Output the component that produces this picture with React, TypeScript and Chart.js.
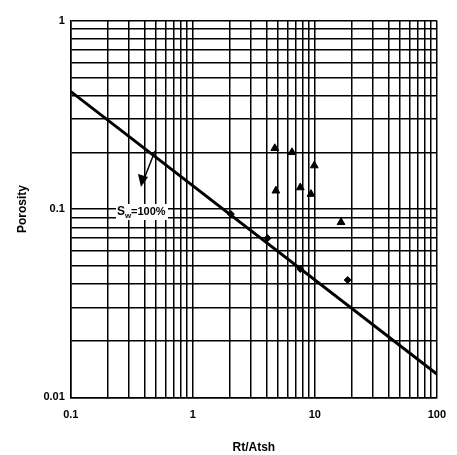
import React, { useEffect, useRef } from 'react';
import { Chart, registerables } from 'chart.js';

Chart.register(...registerables);

const triangleX = [4.7, 6.5, 9.9, 4.8, 7.6, 9.3, 16.4];
const triangleY = [0.21, 0.2, 0.17, 0.125, 0.13, 0.12, 0.085];
const diamondX = [2.05, 4.1, 7.6, 18.6];
const diamondY = [0.094, 0.07, 0.048, 0.042];
const lineX = [0.1, 100];
const lineY = [0.42, 0.0133];
const decades = [0.01, 0.1, 1, 10, 100];

const logTicks = (min: number, max: number) => {
  const out: { value: number }[] = [];
  for (let e = Math.round(Math.log10(min)); e < Math.round(Math.log10(max)); e++) {
    for (let m = 1; m < 10; m++) out.push({ value: m * Math.pow(10, e) });
  }
  out.push({ value: max });
  return out;
};

const isDecade = (v: number) => decades.some((d) => Math.abs(d - v) < d * 1e-6);

const annotation = {
  id: 'swNote',
  afterDatasetsDraw(chart: any) {
    const { ctx } = chart;
    ctx.save();
    ctx.strokeStyle = '#000';
    ctx.fillStyle = '#000';
    ctx.lineWidth = 1.5;
    ctx.beginPath();
    ctx.moveTo(147, 143);
    ctx.lineTo(136, 171);
    ctx.stroke();
    ctx.beginPath();
    ctx.moveTo(133, 179);
    ctx.lineTo(130, 166);
    ctx.lineTo(140, 169);
    ctx.closePath();
    ctx.fill();
    ctx.fillStyle = '#fff';
    ctx.fillRect(108, 196, 52, 16);
    ctx.fillStyle = '#000';
    ctx.font = 'bold 12px "Liberation Sans", Arial';
    ctx.textBaseline = 'middle';
    ctx.fillText('S', 109, 204);
    ctx.font = 'bold 8px "Liberation Sans", Arial';
    ctx.fillText('w', 117, 208);
    ctx.font = 'bold 11px "Liberation Sans", Arial';
    ctx.fillText('=100%', 123, 204);
    ctx.restore();
  },
};

const App: React.FC = () => {
  const canvasRef = useRef<HTMLCanvasElement | null>(null);

  useEffect(() => {
    if (!canvasRef.current) return;
    const chart = new Chart(canvasRef.current, {
      type: 'scatter',
      data: {
        datasets: [
          {
            data: lineX.map((x, i) => ({ x, y: lineY[i] })),
            showLine: true,
            borderColor: '#000',
            borderWidth: 3,
            pointRadius: 0,
          },
          {
            data: triangleX.map((x, i) => ({ x, y: triangleY[i] })),
            pointStyle: 'triangle',
            pointRadius: 4.5,
            backgroundColor: '#000',
            borderColor: '#000',
          },
          {
            data: diamondX.map((x, i) => ({ x, y: diamondY[i] })),
            pointStyle: 'rectRot',
            pointRadius: 3.5,
            backgroundColor: '#000',
            borderColor: '#000',
          },
        ],
      },
      plugins: [annotation],
      options: {
        animation: false,
        responsive: false,
        layout: { padding: { top: 8, right: 0, left: 3, bottom: 0 } },
        plugins: { legend: { display: false }, tooltip: { enabled: false } },
        scales: {
          x: {
            type: 'logarithmic',
            min: 0.1,
            max: 100,
            afterBuildTicks: (s: any) => { s.ticks = logTicks(0.1, 100); },
            grid: { color: '#000', lineWidth: 1.5, drawTicks: false },
            border: { color: '#000', width: 1.5 },
            ticks: {
              autoSkip: false,
              maxRotation: 0,
              padding: 11,
              color: '#000',
              font: { family: '"Liberation Sans", Arial', size: 11, weight: 'bold' },
              callback: (v: any) => (isDecade(Number(v)) ? String(Number(v)) : ''),
            },
            title: {
              display: true,
              text: 'Rt/Atsh',
              color: '#000',
              padding: { top: 8, bottom: 0 },
              font: { family: '"Liberation Sans", Arial', size: 12, weight: 'bold' },
            },
          },
          y: {
            type: 'logarithmic',
            min: 0.01,
            max: 1,
            afterBuildTicks: (s: any) => { s.ticks = logTicks(0.01, 1); },
            grid: { color: '#000', lineWidth: 1.5, drawTicks: false },
            border: { color: '#000', width: 1.5 },
            ticks: {
              autoSkip: false,
              padding: 6,
              color: '#000',
              font: { family: '"Liberation Sans", Arial', size: 11, weight: 'bold' },
              callback: (v: any) => (isDecade(Number(v)) ? String(Number(v)) : ''),
            },
            title: {
              display: true,
              text: 'Porosity',
              color: '#000',
              padding: { bottom: 8 },
              font: { family: '"Liberation Sans", Arial', size: 12, weight: 'bold' },
            },
          },
        },
      },
    });
    return () => chart.destroy();
  }, []);

  return (
    <div style={{ width: 449, height: 447, background: '#fff' }}>
      <canvas ref={canvasRef} width={449} height={447} />
    </div>
  );
};

export default App;
